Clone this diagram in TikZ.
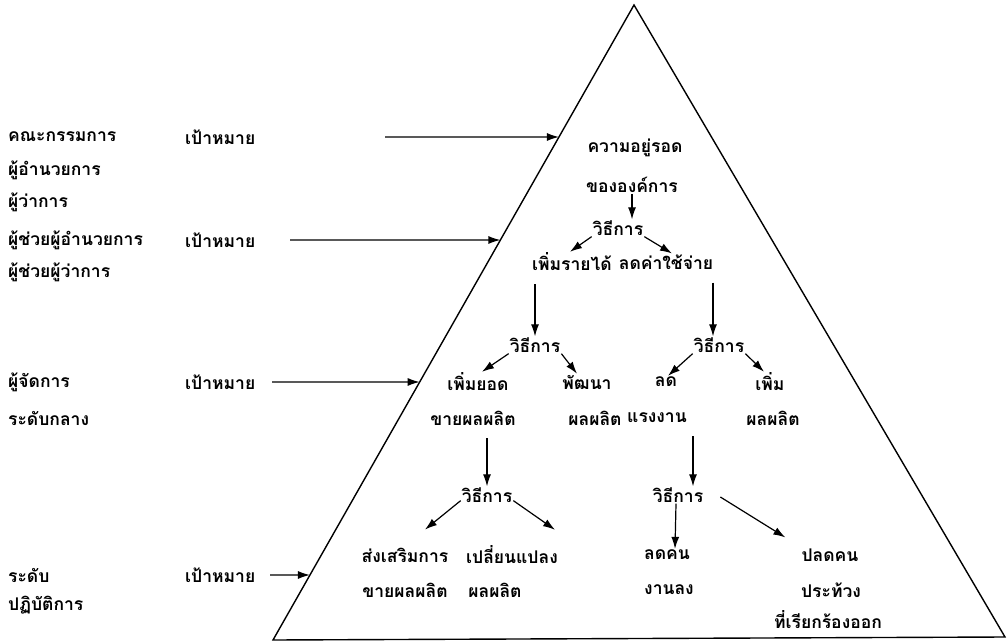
\documentclass[tikz,border=0pt]{standalone}
\usepackage{fontspec}
\setmainfont[Script=Thai]{Loma}
\usetikzlibrary{arrows.meta, positioning, calc}

\begin{document}
\begin{tikzpicture}[x=1pt, y=-1pt, font=\fontsize{17.5}{20}\selectfont\bfseries,
	lbl/.style = {anchor=west, inner sep=0pt},
	txt/.style = {inner sep=1pt},
	goal/.style = {-{Latex[length=12pt,width=8pt]}, line width=1.2pt},
]
	\useasboundingbox (0,0) rectangle (1007,642);

	% the pyramid
	\coordinate (top) at (634,5);
	\coordinate (bl) at (273,640);
	\coordinate (br) at (1005,637);
	\draw [line width=1.4pt] (top) -- (bl) -- (br) -- cycle;

	% levels on the left
	\node (board) [lbl] at (8,137) {คณะกรรมการ};
	\node (goal1) [lbl] at (185,137) {เป้าหมาย};
	\node (dir) [lbl] at (8,170) {ผู้อำนวยการ};
	\node (gov) [lbl] at (8,202) {ผู้ว่าการ};
	\node (asst) [lbl] at (8,240) {ผู้ช่วยผู้อำนวยการ};
	\node (goal2) [lbl] at (185,240) {เป้าหมาย};
	\node (asstgov) [lbl] at (8,272) {ผู้ช่วยผู้ว่าการ};
	\node (mgr) [lbl] at (8,382) {ผู้จัดการ};
	\node (goal3) [lbl] at (185,382) {เป้าหมาย};
	\node (mid) [lbl] at (8,418) {ระดับกลาง};
	\node (ops) [lbl] at (8,575) {ระดับ};
	\node (goal4) [lbl] at (185,575) {เป้าหมาย};
	\node (opsb) [lbl] at (8,605) {ปฏิบัติการ};

	\coordinate (s1) at (385,137);
	\coordinate (s2) at (290,240);
	\coordinate (s3) at (272,382);
	\coordinate (s4) at (270,575);
	\coordinate (e1) at ($(top)!{(137-5)/635}!(bl)$);
	\coordinate (e2) at ($(top)!{(240-5)/635}!(bl)$);
	\coordinate (e3) at ($(top)!{(382-5)/635}!(bl)$);
	\coordinate (e4) at ($(top)!{(575-5)/635}!(bl)$);

	% inside the pyramid
	\node (surv) [txt] at (635,148) {ความอยู่รอด};
	\node (org) [txt] at (632,185) {ขององค์การ};
	\node (how1) [txt] at (618,228) {วิธีการ};
	\node (inc) [txt] at (572,262) {เพิ่มรายได้};
	\node (cut) [txt] at (666,262) {ลดค่าใช้จ่าย};
	\node (how2) [txt] at (535,345) {วิธีการ};
	\node (how3) [txt] at (719,345) {วิธีการ};
	\node (sale) [txt] at (478,382) {เพิ่มยอด};
	\node (sale2) [txt] at (473,418) {ขายผลผลิต};
	\node (dev) [txt] at (587,382) {พัฒนา};
	\node (dev2) [txt] at (595,418) {ผลผลิต};
	\node (less) [txt] at (666,382) {ลด};
	\node (labor) [txt] at (657,418) {แรงงาน};
	\node (more) [txt] at (770,382) {เพิ่ม};
	\node (more2) [txt] at (773,418) {ผลผลิต};
	\node (how4) [txt] at (487,495) {วิธีการ};
	\node (how5) [txt] at (678,495) {วิธีการ};
	\node (promo) [txt] at (405,555) {ส่งเสริมการ};
	\node (promo2) [txt] at (405,590) {ขายผลผลิต};
	\node (chg) [txt] at (512,555) {เปลี่ยนแปลง};
	\node (chg2) [txt] at (495,590) {ผลผลิต};
	\node (fire) [txt] at (667,555) {ลดคน};
	\node (fire2) [txt] at (669,590) {งานลง};
	\node (dism) [txt] at (830,555) {ปลดคน};
	\node (dism2) [txt] at (831,590) {ประท้วง};
	\node (dism3) [txt] at (828,620) {ที่เรียกร้องออก};

\path [goal]
	(s1) edge (e1)
	(s2) edge (e2)
	(s3) edge (e3)
	(s4) edge (e4)
	(org.south) edge (org.south |- how1.north)
	(how1.south west) edge ([xshift=-2pt]inc.north)
	(how1.south east) edge ([xshift=6pt]cut.north)
	([yshift=-12pt]inc.south -| how2) edge (how2.north)
	([yshift=-12pt,xshift=-6pt]cut.south -| how3) edge ([xshift=-6pt]how3.north)
	(how2.south west) edge ([xshift=4pt]sale.north)
	(how2.south east) edge ([xshift=-10pt]dev.north)
	(how3.south west) edge ([xshift=2pt]less.north)
	(how3.south east) edge ([xshift=-6pt]more.north)
	([yshift=-12pt]sale2.south -| how4) edge (how4.north)
	([yshift=-12pt,xshift=15pt]labor.south -| how5) edge ([xshift=15pt]how5.north)
	([yshift=3pt]how4.south west) edge ([xshift=20pt,yshift=17pt]promo.north)
	([yshift=3pt]how4.south east) edge ([xshift=43pt,yshift=15pt]chg.north)
	([xshift=-2pt]how5.south) edge ([xshift=8pt]fire.north)
	([xshift=16pt,yshift=-2pt]how5.east) edge ([xshift=-15pt,yshift=10pt]dism.north west);
\end{tikzpicture}
\end{document}
